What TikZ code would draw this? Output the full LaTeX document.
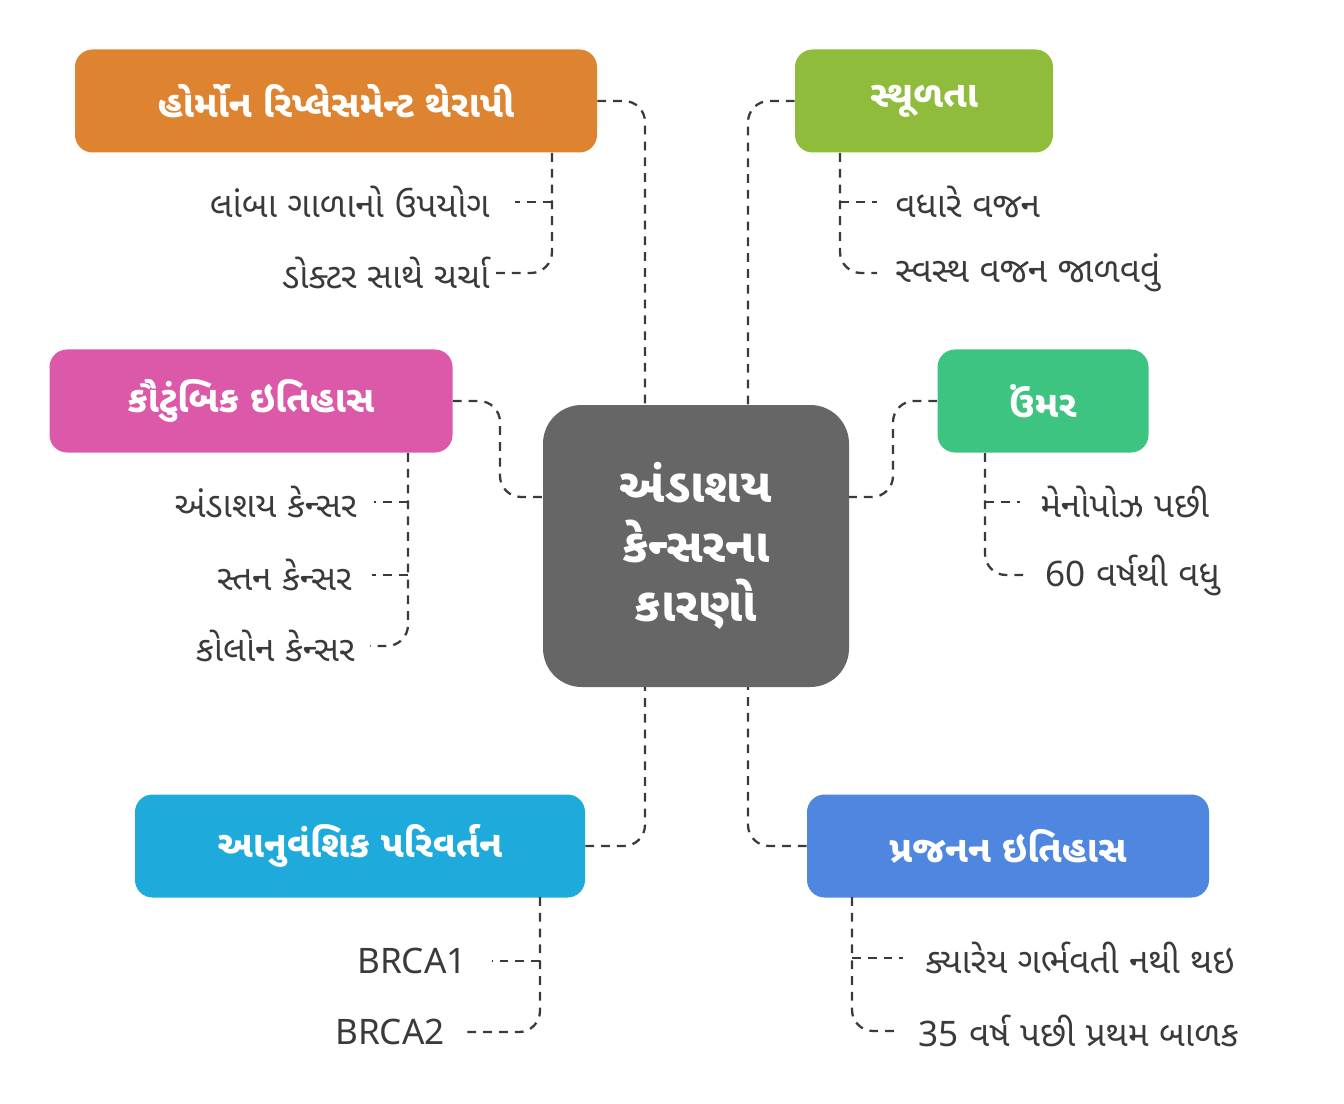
\documentclass[tikz,border=0pt]{standalone}
\usepackage{fontspec}
\setmainfont{Noto Sans}
\newfontfamily\guj[Script=Gujarati]{Noto Sans Gujarati UI}
\usetikzlibrary{positioning, calc}
\definecolor{cOrange}{HTML}{DE8431}
\definecolor{cGreen}{HTML}{8FBC3B}
\definecolor{cPink}{HTML}{DC58A8}
\definecolor{cMint}{HTML}{3DC480}
\definecolor{cCyan}{HTML}{1EAADB}
\definecolor{cBlue}{HTML}{4E86E0}
\definecolor{cGray}{HTML}{666666}
\definecolor{cText}{HTML}{3A3A3A}
\tikzset{
  headbox/.style={rounded corners=10pt, text=white, font=\guj\bfseries\fontsize{21}{24}\selectfont, minimum height=103*0.02cm, inner sep=0pt},
  leaf/.style={text=cText, font=\guj\fontsize{20}{24}\selectfont, inner sep=0pt},
  link/.style={draw=cText, line width=1.3pt, dash pattern=on 5pt off 4pt, rounded corners=12pt},
}
\begin{document}
\begin{tikzpicture}[x=0.02cm, y=-0.02cm]
		\useasboundingbox (0,0) rectangle (1344,1104);
		%Centre
		\node (core) at (696,546) [fill=cGray, rounded corners=22pt, minimum width=306*0.02cm, minimum height=282*0.02cm, text=white, align=center, font=\guj\bfseries\fontsize{27}{34}\selectfont]{અંડાશય\\કેન્સરના\\કારણો};
		
		%Heads
		\node (hrt) at (336,101) [headbox, fill=cOrange, minimum width=522*0.02cm]{હોર્મોન રિપ્લેસમેન્ટ થેરાપી};
		\node (obes) at (924,101) [headbox, fill=cGreen, minimum width=258*0.02cm]{સ્થૂળતા};
		\node (fam) at (251,401) [headbox, fill=cPink, minimum width=403*0.02cm]{કૌટુંબિક ઇતિહાસ};
		\node (age) at (1043,401) [headbox, fill=cMint, minimum width=211*0.02cm]{ઉંમર};
		\node (gene) at (360,846) [headbox, fill=cCyan, minimum width=450*0.02cm]{આનુવંશિક પરિવર્તન};
		\node (repro) at (1008,846) [headbox, fill=cBlue, minimum width=402*0.02cm]{પ્રજનન ઇતિહાસ};
		
		%Head links
		\draw[link] (hrt.east) -- (645,101) -- (645,405);
		\draw[link] (obes.west) -- (748,101) -- (748,405);
		\draw[link] (fam.east) -- (500,401) -- (500,497) -- (543,497);
		\draw[link] (age.west) -- (893,401) -- (893,497) -- (849,497);
		\draw[link] (gene.east) -- (645,846) -- (645,687);
		\draw[link] (repro.west) -- (748,846) -- (748,687);
		
		%Leaves
		\node (h1) [leaf, anchor=east] at (490,202) {લાંબા ગાળાનો ઉપયોગ};
		\node (h2) [leaf, anchor=east] at (490,273) {ડોક્ટર સાથે ચર્ચા};
		\draw[link] (552,153) -- (552,273) -- (h2.east) ++(22,0);
		\draw[link] (552,202) -- ($(h1.east)+(25,0)$);
		
		\node (o1) [leaf, anchor=west] at (895,202) {વધારે વજન};
		\node (o2) [leaf, anchor=west] at (895,273) {સ્વસ્થ વજન જાળવવું};
		\draw[link] (840,153) -- (840,273) -- ($(o2.west)+(-18,0)$);
		\draw[link] (840,202) -- ($(o1.west)+(-18,0)$);
		
		\node (f1) [leaf, anchor=east] at (357,502) {અંડાશય કેન્સર};
		\node (f2) [leaf, anchor=east] at (352,575) {સ્તન કેન્સર};
		\node (f3) [leaf, anchor=east] at (355,646) {કોલોન કેન્સર};
		\draw[link] (408,453) -- (408,646) -- ($(f3.east)+(15,0)$);
		\draw[link] (408,502) -- ($(f1.east)+(17,0)$);
		\draw[link] (408,575) -- ($(f2.east)+(20,0)$);
		
		\node (a1) [leaf, anchor=west] at (1040,502) {મેનોપોઝ પછી};
		\node (a2) [leaf, anchor=west] at (1045,575) {{\fontspec{Noto Sans}60} વર્ષથી વધુ};
		\draw[link] (985,453) -- (985,575) -- ($(a2.west)+(-22,0)$);
		\draw[link] (985,502) -- ($(a1.west)+(-20,0)$);
		
		\node (g1) [leaf, anchor=east, font=\fontsize{20}{24}\selectfont] at (467,961) {BRCA1};
		\node (g2) [leaf, anchor=east, font=\fontsize{20}{24}\selectfont] at (445,1032) {BRCA2};
		\draw[link] (540,897) -- (540,1032) -- ($(g2.east)+(22,0)$);
		\draw[link] (540,961) -- ($(g1.east)+(25,0)$);
		
		\node (r1) [leaf, anchor=west] at (925,958) {ક્યારેય ગર્ભવતી નથી થઇ};
		\node (r2) [leaf, anchor=west] at (918,1031) {{\fontspec{Noto Sans}35} વર્ષ પછી પ્રથમ બાળક};
		\draw[link] (852,897) -- (852,1031) -- ($(r2.west)+(-22,0)$);
		\draw[link] (852,958) -- ($(r1.west)+(-22,0)$);
\end{tikzpicture}
\end{document}
